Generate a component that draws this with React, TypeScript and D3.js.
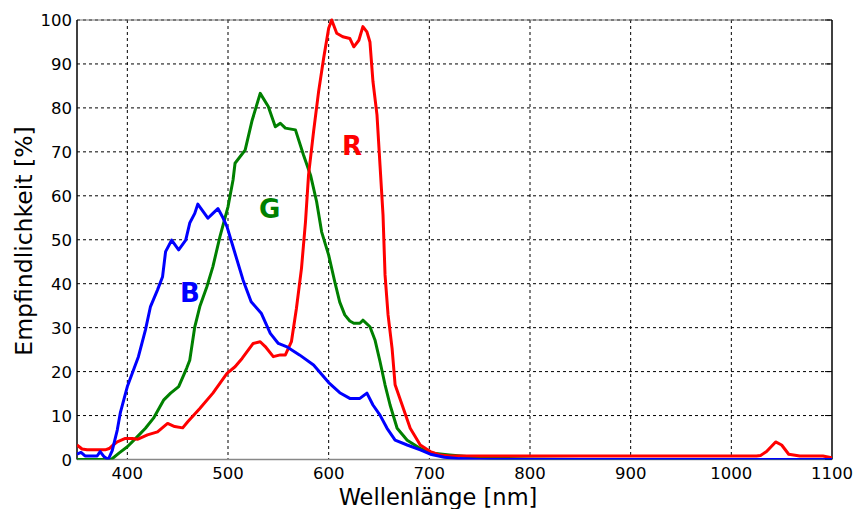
import React from "react";
import * as d3 from "d3";

const xTicks = [400, 500, 600, 700, 800, 900, 1000, 1100];
const xTickLabels = ["400", "500", "600", "700", "800", "900", "1000", "1100"];
const yTicks = [0, 10, 20, 30, 40, 50, 60, 70, 80, 90, 100];
const yTickLabels = ["0", "10", "20", "30", "40", "50", "60", "70", "80", "90", "100"];

const blueWl = [350,354,358,365,370,373,377,381,385,390,393,400,405,411,418,423,430,435,438,444,451,458,462,467,470,475,480,485,490,495,499,505,515,523,533,542,550,558,571,585,600,611,621,631,638,644,651,658,666,678,691,701,715,730,750,1100];
const blueVal = [1.2,1.6,0.8,0.8,0.8,1.8,0.6,0,2,6.7,10.6,16.6,19.7,23.4,29.5,34.8,38.6,41.6,47.3,49.9,47.7,49.9,53.8,56,58.1,56.5,54.9,56,57.1,55,53,48.4,40.8,35.9,33.3,28.7,26.4,25.7,23.8,21.5,17.5,15.2,13.9,13.9,15.1,12.4,10.1,7.1,4.4,3.3,2.2,1.2,0.5,0.2,0,0];

const greenWl = [350,384,392,400,410,418,426,436,443,451,459,462,467,472,479,485,492,500,505,507,517,524,532,540,547,552,557,567,575,582,588,593,600,606,611,616,621,625,631,634,641,646,651,656,661,668,678,691,704,720,740,760,800,850,1100];
const greenVal = [0,0,1.5,2.9,5.2,7.1,9.4,13.5,15.1,16.6,20.8,22.6,30.2,34.8,39.3,43.9,50.7,57.5,63.6,67.4,70.4,77.2,83.3,80.3,75.7,76.5,75.4,75,69.3,64.7,58.7,51.8,46.5,40.5,35.8,32.9,31.5,31,31,31.7,30.2,27.2,22.3,17,12.4,7.1,4.4,2.5,1.4,1.0,0.6,0.3,0.1,0,0];

const redWl = [350,355,360,378,382,386,390,398,405,410,420,430,440,447,455,460,472,485,499,507,514,525,532,537,545,552,557,563,568,573,577,580,585,590,595,600,603,608,614,621,625,630,634,638,641,644,648,651,654,656,659,663,666,673,681,691,701,711,720,1025,1029,1035,1044,1050,1057,1068,1091,1100];
const redVal = [3.3,2.4,2.2,2.2,2.5,3.3,4.0,4.8,4.8,4.6,5.6,6.3,8.2,7.5,7.2,8.6,11.6,15.1,19.6,21.1,23,26.4,26.8,25.7,23.4,23.8,23.8,26.8,34.4,43.5,54.1,64.7,74.6,83.7,91.3,98.1,100,97,96.2,95.8,93.9,95.4,98.5,97.3,95,86,78.4,67,55.6,42,32.9,25.3,17,12.4,7.1,3.3,1.8,1.0,0.8,0.8,0.9,1.8,4.0,3.3,1.2,0.8,0.8,0.4];

const seriesNames = ["R", "G", "B"];

export default function App() {
  const W = 857, H = 509;
  const left = 77, right = 832, top = 20, bottom = 459.5;
  const x = d3.scaleLinear().domain([350, 1100]).range([left, right]);
  const y = d3.scaleLinear().domain([0, 100]).range([bottom, top]);
  const line = d3.line<[number, number]>().x(d => x(d[0])).y(d => y(d[1]));
  const zip = (a: number[], b: number[]) => a.map((v, i) => [v, b[i]] as [number, number]);
  const series = [
    { name: seriesNames[1], color: "#008000", data: zip(greenWl, greenVal) },
    { name: seriesNames[0], color: "#ff0000", data: zip(redWl, redVal) },
    { name: seriesNames[2], color: "#0000ff", data: zip(blueWl, blueVal) },
  ];
  const font = "'DejaVu Sans', Verdana, sans-serif";
  return (
    <svg width={W} height={H} style={{ position: "absolute", left: 0, top: 0, background: "#fff" }}>
      <defs>
        <clipPath id="plot">
          <rect x={left} y={top - 2} width={right - left} height={bottom - top + 2} />
        </clipPath>
      </defs>
      {xTicks.slice(0, -1).map(t => (
        <line key={"gx" + t} x1={x(t)} x2={x(t)} y1={top} y2={bottom} stroke="#000" strokeWidth={1} strokeDasharray="3,3" />
      ))}
      {yTicks.slice(1).map(t => (
        <line key={"gy" + t} x1={left} x2={right} y1={y(t)} y2={y(t)} stroke="#000" strokeWidth={1} strokeDasharray="3,3" />
      ))}
      <line x1={left} x2={right} y1={top} y2={top} stroke="#777" strokeWidth={1} />
      <line x1={left} x2={right} y1={bottom} y2={bottom} stroke="#888" strokeWidth={1.5} />
      <line x1={left} x2={left} y1={top} y2={bottom} stroke="#000" strokeWidth={1.5} />
      <line x1={right} x2={right} y1={top} y2={bottom} stroke="#000" strokeWidth={1.5} />
      {yTicks.map(t => (
        <line key={"ty" + t} x1={right - 7} x2={right} y1={y(t)} y2={y(t)} stroke="#000" strokeWidth={1} />
      ))}
      <g clipPath="url(#plot)">
        {series.map(s => (
          <path key={s.name} d={line(s.data) || ""} fill="none" stroke={s.color} strokeWidth={3} strokeLinejoin="round" />
        ))}
      </g>
      {yTicks.map((t, i) => (
        <text key={"ly" + t} x={left - 5} y={y(t) + 6} textAnchor="end" fontFamily={font} fontSize={16.5} fill="#000">{yTickLabels[i]}</text>
      ))}
      {xTicks.map((t, i) => (
        <text key={"lx" + t} x={x(t)} y={479} textAnchor="middle" fontFamily={font} fontSize={16.5} fill="#000">{xTickLabels[i]}</text>
      ))}
      <text x={438} y={505} textAnchor="middle" fontFamily={font} fontSize={22.5} fill="#000">Wellenlänge [nm]</text>
      <text transform={`translate(32,${241}) rotate(-90)`} textAnchor="middle" fontFamily={font} fontSize={23.5} fill="#000">Empfindlichkeit [%]</text>
      <text x={342} y={155} fontFamily={font} fontWeight="bold" fontSize={26} fill="#ff0000">R</text>
      <text x={259} y={218} fontFamily={font} fontWeight="bold" fontSize={26} fill="#008000">G</text>
      <text x={180} y={302} fontFamily={font} fontWeight="bold" fontSize={26} fill="#0000ff">B</text>
    </svg>
  );
}
